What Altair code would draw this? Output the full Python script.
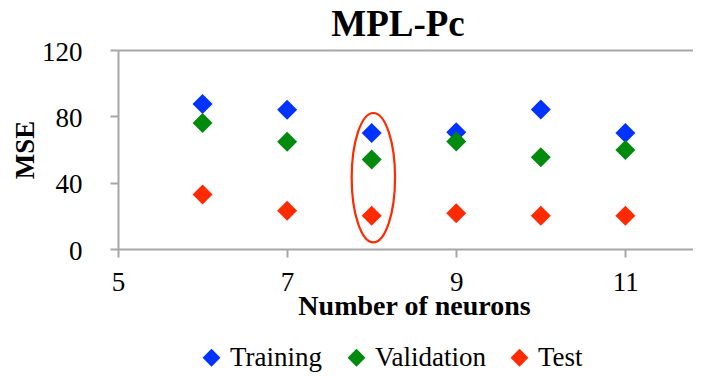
import altair as alt
import pandas as pd

# --- data ---
neurons = [6, 7, 8, 9, 10, 11]
training = [87.5, 84.0, 70.0, 70.4, 84.1, 70.0]
validation = [76.0, 64.6, 54.0, 64.8, 55.3, 59.7]
test = [32.8, 23.1, 20.1, 21.5, 20.1, 20.1]
series_names = ["Training", "Validation", "Test"]
series_colors = ["#0033ff", "#008a0e", "#ff2a00"]

# highlighted configuration (ellipse annotation)
highlight_x = [8.02]
highlight_y = [43.0]

x_ticks = [5, 7, 9, 11]
y_ticks = [0, 40, 80, 120]
chart_title = ["MPL-Pc"]

rows = []
for name, vals in zip(series_names, [training, validation, test]):
    for n, v in zip(neurons, vals):
        rows.append({"neurons": n, "MSE": v, "series": name})
df = pd.DataFrame(rows)
hl = pd.DataFrame({"neurons": highlight_x, "MSE": highlight_y})
tdf = pd.DataFrame({"title": chart_title})

FONT = "Liberation Serif"
AXIS_GRAY = "#a6a6a6"

x_enc = alt.X(
    "neurons:Q",
    scale=alt.Scale(domain=[5, 11.8], nice=False, zero=False),
    axis=alt.Axis(
        values=x_ticks, format="d", title="Number of neurons",
        titleY=65, titleBaseline="alphabetic", titleX=296, titleFontSize=28,
        labelPadding=12, tickSize=8, grid=False, labelFlush=False,
        labelFont=FONT,
    ),
)
y_enc = alt.Y(
    "MSE:Q",
    scale=alt.Scale(domain=[0, 120], nice=False),
    axis=alt.Axis(
        values=y_ticks, title="MSE",
        titleX=-93, titleY=99.5, titleAngle=-90,
        titleBaseline="middle", titleAlign="center",
        labelPadding=28, tickSize=8, labelFlush=False, labelOffset=2,
        labelFont=FONT,
        grid=True, gridColor=AXIS_GRAY, gridWidth=2,
        gridOpacity={"condition": {"test": "datum.value === 120", "value": 1}, "value": 0},
    ),
)

points = alt.Chart(df).mark_point(
    shape="diamond", filled=True, size=400, opacity=1, strokeWidth=0
).encode(
    x=x_enc,
    y=y_enc,
    color=alt.Color(
        "series:N",
        scale=alt.Scale(domain=series_names, range=series_colors),
        legend=alt.Legend(
            title=None, orient="none", direction="horizontal",
            legendX=80, legendY=294,
            symbolType="diamond", symbolSize=320, symbolStrokeWidth=0,
            labelFont=FONT, labelFontSize=27, labelColor="black",
            labelOffset=5, columnPadding=20,
        ),
    ),
)

ellipse_path = "M0,-1A0.335,1,0,1,1,0,1A0.335,1,0,1,1,0,-1Z"
ellipse = alt.Chart(hl).mark_point(
    shape=ellipse_path, size=16744, filled=False,
    stroke="#ff2a00", strokeWidth=2.2, opacity=1,
).encode(x="neurons:Q", y="MSE:Q")

title = alt.Chart(tdf).mark_text(
    font=FONT, fontSize=37, fontWeight="bold", color="black",
    align="center", baseline="alphabetic",
).encode(x=alt.value(280), y=alt.value(-14), text="title:N")

chart = alt.layer(points, ellipse, title).properties(
    width=575,
    height=199,
    autosize=alt.AutoSizeParams(type="none"),
    padding={"left": 110, "top": 42, "right": 0, "bottom": 125},
).configure_view(
    stroke=None
).configure_axis(
    labelFont=FONT, labelFontSize=27, labelColor="black",
    titleFont=FONT, titleFontSize=27, titleFontWeight="bold", titleColor="black",
    domainColor=AXIS_GRAY, domainWidth=2, tickColor=AXIS_GRAY, tickWidth=2,
).configure_legend(
    labelFont=FONT, labelFontSize=27, labelColor="black",
)

chart.save("out.html", embed_options={"renderer": "svg", "actions": False})
